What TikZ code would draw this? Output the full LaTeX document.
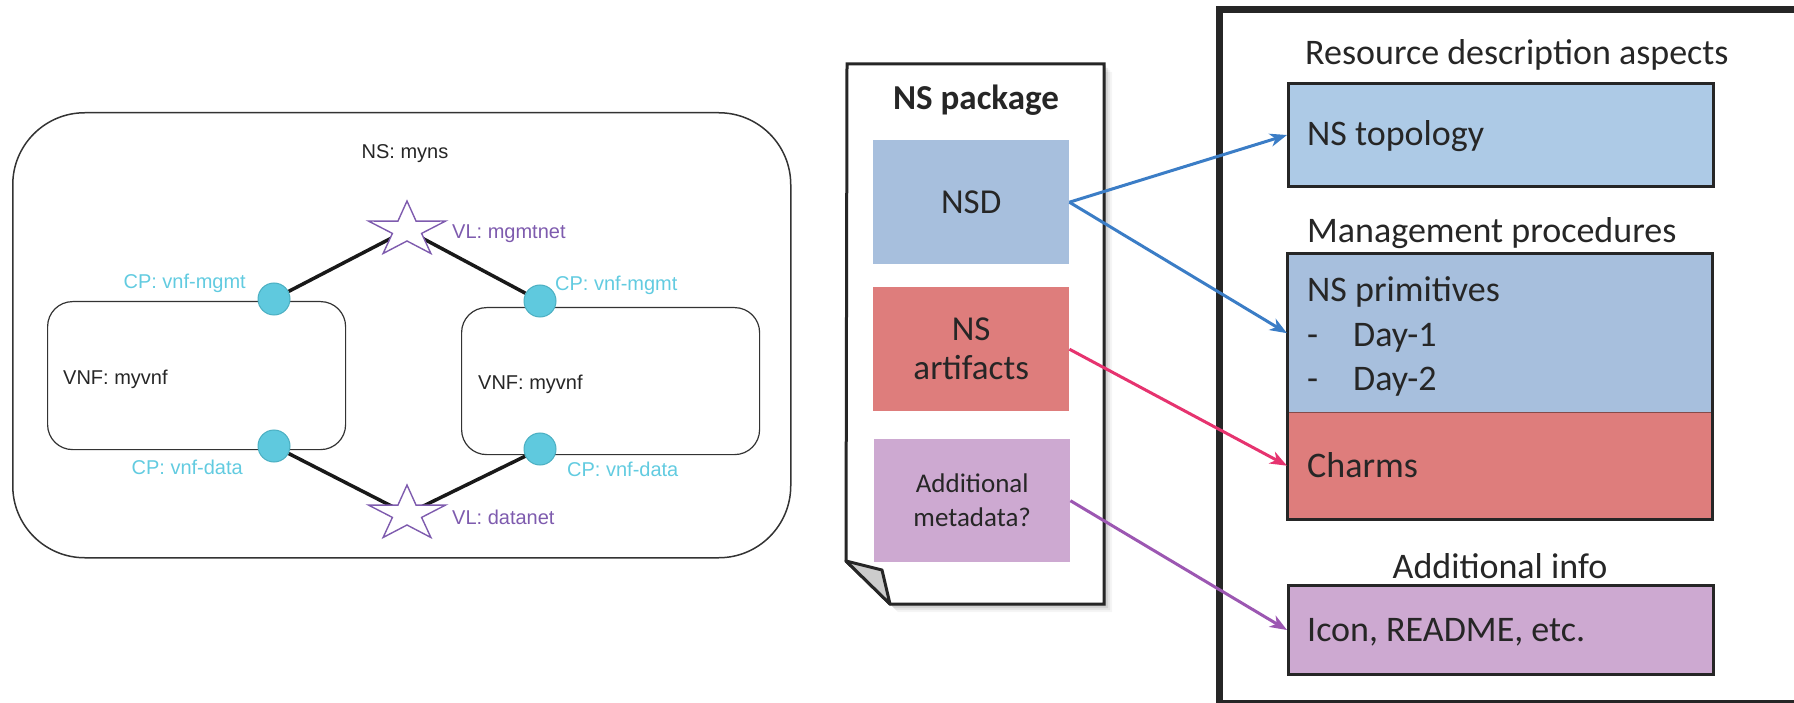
\documentclass[tikz,border=0pt]{standalone}
\usepackage{fontspec}
\setmainfont{Carlito}
\newfontfamily\arialf{Liberation Sans}
\usetikzlibrary{arrows.meta,backgrounds}

\definecolor{cpfill}{HTML}{5FC9DE}
\definecolor{cpline}{HTML}{4BAFC2}
\definecolor{cptext}{HTML}{62CBE0}
\definecolor{vlcol}{HTML}{7E5BAE}
\definecolor{nsdblue}{HTML}{A7BFDD}
\definecolor{topoblue}{HTML}{ADCAE6}
\definecolor{artred}{HTML}{DE7D7C}
\definecolor{metapurp}{HTML}{CDA9D1}
\definecolor{arrblue}{HTML}{3B7DC6}
\definecolor{arrpink}{HTML}{E6336F}
\definecolor{arrpurp}{HTML}{9C57B2}
\definecolor{ink}{HTML}{262626}

\tikzset{
  small/.style={font=\arialf\fontsize{20}{24}\selectfont, inner sep=0pt},
  big/.style={font=\fontsize{36}{44}\selectfont, text=ink, inner sep=0pt},
  cp/.style={circle, fill=cpfill, draw=cpline, line width=1pt, minimum size=32pt, inner sep=0pt},
  cplabel/.style={small, text=cptext},
  vllabel/.style={small, text=vlcol},
  vnfbox/.style={draw=black!80, line width=1.2pt, rounded corners=25pt, inner sep=0pt, anchor=north west},
  link/.style={line width=3.5pt, black!90},
  pkgbox/.style={minimum width=196pt, minimum height=124pt, inner sep=0pt, anchor=north west, text=ink, align=center},
  aspectbox/.style={anchor=north west, minimum width=425pt, inner sep=0pt},
  arr/.style={line width=3pt, -{Stealth[length=17pt,width=13pt,inset=5pt]}},
  vlstar/.pic={
    \draw[draw=vlcol, line width=1.4pt, fill=white, line join=miter]
      (0,-29) -- (-9.05,-8.9) -- (-38.6,-8.96) -- (-14.6,3.4) -- (-23.9,23.5)
      -- (0,11) -- (23.9,23.5) -- (14.6,3.4) -- (38.6,-8.96) -- (9.05,-8.9) -- cycle;
  }
}

\begin{document}
\begin{tikzpicture}[x=1pt,y=-1pt]
\useasboundingbox (0,0) rectangle (1794,703);
\clip (0,0) rectangle (1794,703);

% ---------- network service topology ----------
\node[draw=black!80, line width=1.5pt, rounded corners=72pt, inner sep=0pt,
      anchor=north west, minimum width=778pt, minimum height=445pt] (ns) at (12,112) {};
\node[small, text=black!85, anchor=base] (nslabel) at (405,159) {NS: myns};

\node[vnfbox, minimum width=298pt, minimum height=148pt] (vnfa) at (47,301) {};
\node[vnfbox, minimum width=298pt, minimum height=147pt] (vnfb) at (461,307) {};
\node[small, text=black!85, anchor=base west] (vnfatxt) at (63,384) {VNF: myvnf};
\node[small, text=black!85, anchor=base west] (vnfbtxt) at (478,389) {VNF: myvnf};

\coordinate (vlm) at (407,230);
\coordinate (vld) at (407,514);

\node[cp] (cpml) at (274,299) {};
\node[cp] (cpdl) at (274,446) {};
\node[cp] (cpmr) at (540,301) {};
\node[cp] (cpdr) at (540,449) {};

\begin{scope}[on background layer]
  \draw[link] (cpml) -- (vlm) -- (cpmr);
  \draw[link] (cpdl) -- (vld) -- (cpdr);
\end{scope}

\pic at (vlm) {vlstar};
\pic at (vld) {vlstar};

\node[vllabel, anchor=base west] (vlmtxt) at (452,239) {VL: mgmtnet};
\node[vllabel, anchor=base west] (vldtxt) at (452,524) {VL: datanet};
\node[cplabel, anchor=base east] (cpmltxt) at (246,289) {CP: vnf-mgmt};
\node[cplabel, anchor=base west] (cpmrtxt) at (555,291) {CP: vnf-mgmt};
\node[cplabel, anchor=base east] (cpdltxt) at (243,474) {CP: vnf-data};
\node[cplabel, anchor=base west] (cpdrtxt) at (567,476) {CP: vnf-data};

% ---------- package document ----------
\foreach \d/\o in {2/0.10,4/0.08,6/0.06,8/0.04}{
  \fill[black, opacity=\o, shift={(\d,\d)}]
    (851,64) -- (1104,64) -- (1104,604) -- (890,604) -- (846,561) -- cycle;
}
\draw[ink, line width=3pt, fill=white, line join=miter]
  (847,64) -- (1104,64) -- (1104,604) -- (890,604) -- (846,561) -- cycle;
\draw[ink, line width=3pt, fill=black!20, line join=round]
  (846,561) -- (882,570) -- (890,604) -- cycle;

\node[font=\bfseries\fontsize{35}{40}\selectfont, text=ink, inner sep=0pt, anchor=base] (pkgtitle) at (976,110) {NS package};

\node[pkgbox, fill=nsdblue, font=\fontsize{35}{39}\selectfont] (nsd) at (873,140) {NSD};
\node[pkgbox, fill=artred, font=\fontsize{35}{39}\selectfont] (art) at (873,287) {NS\\artifacts};
\node[pkgbox, fill=metapurp, minimum height=123pt, font=\fontsize{27}{34}\selectfont] (meta) at (874,439) {Additional\\metadata?};

% ---------- descriptor aspects ----------
\draw[ink, line width=7pt] (1219.5,10) rectangle (1840,703.5);

\node[big, anchor=base west] (hdra) at (1305,65) {Resource description aspects};
\node[aspectbox, fill=topoblue, draw=ink, line width=3pt, minimum height=103pt] (topo) at (1287,82) {};
\node[big, anchor=base west] (topotxt) at (1307,146) {NS topology};

\node[big, anchor=base west] (hdrb) at (1307,243) {Management procedures};
\node[aspectbox, fill=nsdblue, minimum height=158pt] (prim) at (1287,254) {};
\node[aspectbox, fill=artred, minimum height=107pt] (charm) at (1287,412) {};
\draw[artred!60!black, line width=0.8pt] (prim.south west) -- (prim.south east);
\draw[ink, line width=3pt] (prim.north west) rectangle (charm.south east);
\node[big, anchor=base west] (primtxt) at (1307,302) {NS primitives};
\node[big, anchor=base west] (dasha) at (1307,346) {-};
\node[big, anchor=base west] (daya) at (1353,346) {Day-1};
\node[big, anchor=base west] (dashb) at (1307,390) {-};
\node[big, anchor=base west] (dayb) at (1353,390) {Day-2};
\node[big, anchor=base west] (charmtxt) at (1307,477) {Charms};

\node[big, anchor=base] (hdrc) at (1500,578) {Additional info};
\node[aspectbox, fill=metapurp, draw=ink, line width=3pt, minimum height=89pt] (icon) at (1287,584) {};
\node[big, anchor=base west] (icontxt) at (1307,641) {Icon, README, etc.};

% ---------- mapping arrows ----------
\draw[arr, arrblue] (nsd.east) -- (topo.west);
\draw[arr, arrblue] (nsd.east) -- (prim.west);
\draw[arr, arrpink] (art.east) -- (charm.west);
\draw[arr, arrpurp] (meta.east) -- (icon.west);
\end{tikzpicture}
\end{document}
